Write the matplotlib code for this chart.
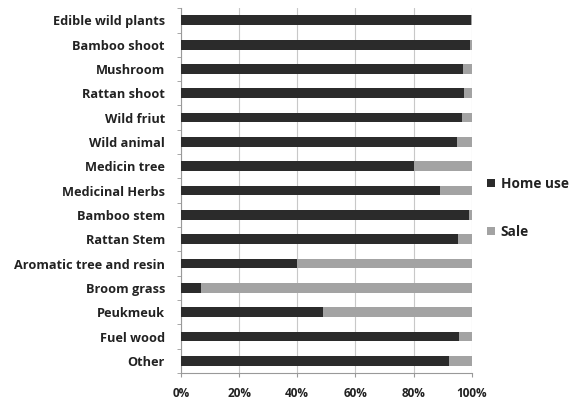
import numpy as np
import matplotlib
matplotlib.use('Agg')
import matplotlib.pyplot as plt
from matplotlib.ticker import MultipleLocator, FixedLocator, PercentFormatter

plt.rcParams['font.family'] = ['Open Sans', 'DejaVu Sans']

# --- data (top to bottom) --- #
categories = ['Edible wild plants', 'Bamboo shoot', 'Mushroom', 'Rattan shoot',
              'Wild friut', 'Wild animal', 'Medicin tree', 'Medicinal Herbs',
              'Bamboo stem', 'Rattan Stem', 'Aromatic tree and resin',
              'Broom grass', 'Peukmeuk', 'Fuel wood', 'Other']
home_use = [99.7, 99.3, 97, 97.5, 96.5, 95, 80, 89, 99, 95.3, 40, 7, 49, 95.6, 92.2]
sale = [100 - v for v in home_use]

c_home = '#2b2b2b'
c_sale = '#a3a3a3'

fig = plt.figure(figsize=(5.76, 4.09), dpi=100)
ax = fig.add_axes([0.314, 0.088, 0.505, 0.892])

y = np.arange(len(categories))[::-1]
ax.barh(y, home_use, height=0.4, color=c_home, label='Home use', zorder=3)
ax.barh(y, sale, left=home_use, height=0.4, color=c_sale, label='Sale', zorder=3)

# limits
ax.set_xlim(0, 100)
ax.set_ylim(-0.5, len(categories) - 0.5)

# ticks
ax.xaxis.set_major_locator(MultipleLocator(20))
ax.xaxis.set_major_formatter(PercentFormatter(decimals=0))
ax.set_yticks(y)
ax.set_yticklabels(categories)
ax.yaxis.set_minor_locator(FixedLocator(np.arange(-0.5, len(categories), 1)))
ax.tick_params(axis='y', which='major', length=0, pad=11.5, labelsize=9.2)
ax.tick_params(axis='y', which='minor', length=3, color='#999999')
ax.tick_params(axis='x', length=3, color='#999999', pad=7, labelsize=8.5)
for lbl in ax.get_xticklabels() + ax.get_yticklabels():
    lbl.set_fontweight('bold')
    lbl.set_color('#222222')

# grid / spines
ax.grid(axis='x', color='#c8c8c8', lw=0.8, zorder=0)
for s in ['top', 'right']:
    ax.spines[s].set_visible(False)
for s in ['left', 'bottom']:
    ax.spines[s].set_color('#999999')
    ax.spines[s].set_linewidth(0.8)

# legend
leg = ax.legend(loc='center left', bbox_to_anchor=(1.01, 0.453), frameon=False,
                handlelength=0.6, handleheight=0.6, handletextpad=0.4,
                labelspacing=2.5, prop={'size': 9.8, 'weight': 'bold'})
for t in leg.get_texts():
    t.set_color('#222222')

fig.savefig('out.png', dpi=100)
